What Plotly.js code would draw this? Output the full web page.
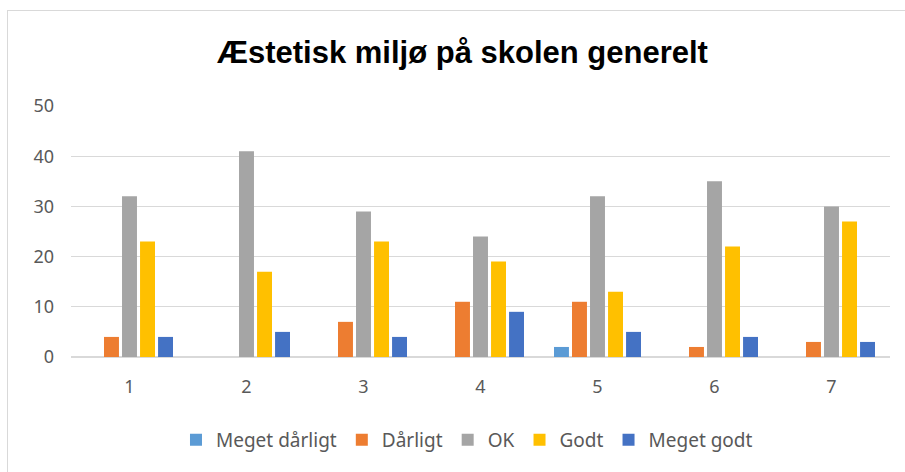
<!DOCTYPE html>
<html>
<head>
<meta charset="utf-8">
<script src="https://cdn.plot.ly/plotly-3.0.1.min.js"></script>
<style>
  html, body { margin: 0; padding: 0; background: #fff; }
  #frame { position: absolute; left: 7px; top: 10px; width: 920px; height: 480px; border: 1px solid #d9d9d9; box-sizing: border-box; }
  #chart { position: absolute; left: 0; top: 0; width: 905px; height: 472px; }
</style>
</head>
<body>
<div id="frame"></div>
<div id="chart"></div>
<script>
const categories = ["1", "2", "3", "4", "5", "6", "7"];
const seriesNames = ["Meget dårligt", "Dårligt", "OK", "Godt", "Meget godt"];
const megetDarligt = [0, 0, 0, 0, 2, 0, 0];
const darligt = [4, 0, 7, 11, 11, 2, 3];
const ok = [32, 41, 29, 24, 32, 35, 30];
const godt = [23, 17, 23, 19, 13, 22, 27];
const megetGodt = [4, 5, 4, 9, 5, 4, 3];
const yTicks = [0, 10, 20, 30, 40, 50];
const titleText = "Æstetisk miljø på skolen generelt";

const colors = ["#5B9BD5", "#ED7D31", "#A5A5A5", "#FFC000", "#4472C4"];
const values = [megetDarligt, darligt, ok, godt, megetGodt];

const traces = values.map((v, i) => ({
  type: "bar",
  name: seriesNames[i],
  x: categories,
  y: v,
  marker: { color: colors[i], line: { width: 0 } },
  hoverinfo: "x+y+name"
}));

const font = "Noto Sans, Liberation Sans, sans-serif";

const layout = {
  width: 905,
  height: 472,
  paper_bgcolor: "rgba(0,0,0,0)",
  plot_bgcolor: "rgba(0,0,0,0)",
  margin: { l: 71, r: 15, t: 106, b: 115, autoexpand: false },
  barmode: "group",
  bargap: 0.23,
  bargroupgap: 0.17,
  title: {
    text: "<b>" + titleText + "</b>",
    font: { family: "Liberation Sans, Arial, sans-serif", size: 31, color: "#000" },
    x: 0.511, xanchor: "center", xref: "container",
    y: 0.89, yanchor: "middle", yref: "container"
  },
  xaxis: {
    type: "category",
    tickfont: { family: font, size: 18, color: "#595959" },
    ticks: "",
    showgrid: false,
    showline: false,
    zeroline: false,
    ticklabelstandoff: 17
  },
  yaxis: {
    range: [0, 50],
    tickvals: yTicks,
    ticktext: yTicks.map(String),
    tickfont: { family: font, size: 18, color: "#595959" },
    showgrid: true,
    gridcolor: "#d9d9d9",
    gridwidth: 1,
    zeroline: true,
    zerolinecolor: "#d9d9d9",
    zerolinewidth: 1.5,
    showline: false,
    ticks: "",
    ticklabelstandoff: 16,
    fixedrange: true
  },
  showlegend: true,
  legend: {
    orientation: "h",
    x: 0.4835, xanchor: "center",
    y: -0.33, yanchor: "middle",
    font: { family: font, size: 19, color: "#595959" },
    itemwidth: 30,
    traceorder: "normal"
  }
};

Plotly.newPlot("chart", traces, layout, { displayModeBar: false, staticPlot: true });
</script>
</body>
</html>
